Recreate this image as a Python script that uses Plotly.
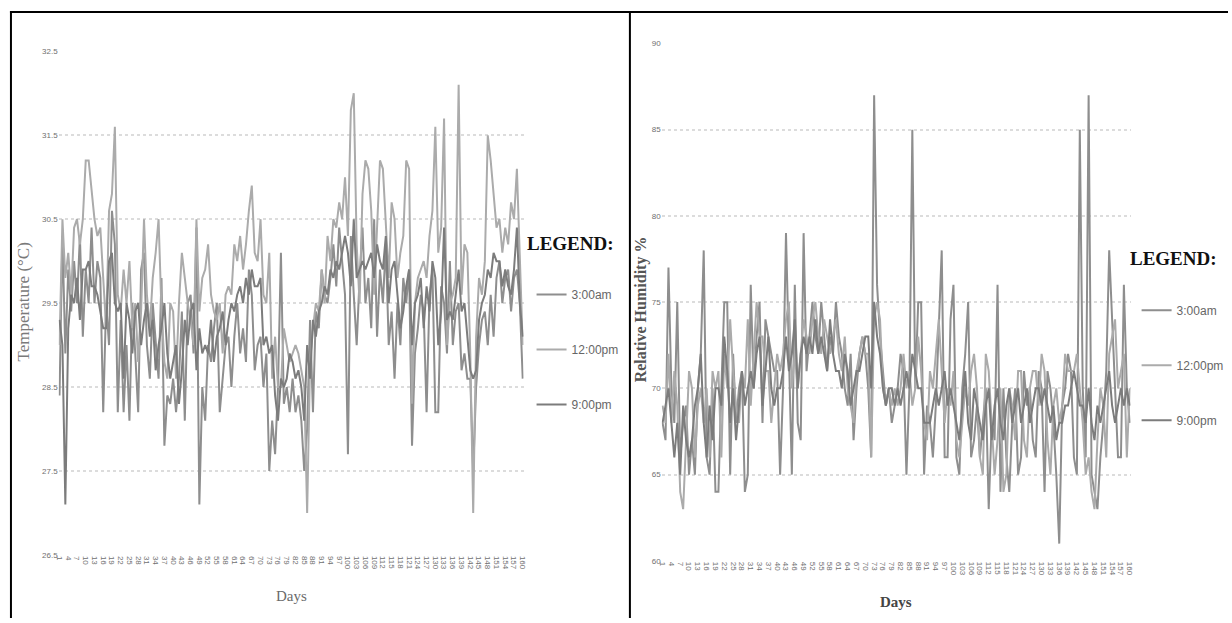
import plotly.graph_objects as go

W, H = 1232, 623
days = list(range(1, 161))
tick_days = list(range(1, 161, 3))

temp_3am = [
    28.4, 30.3, 28.9, 29.9, 29.4, 30.0, 29.5, 30.3, 29.1, 29.9,
    29.5, 30.4, 29.5, 30.0, 29.8, 28.2, 29.5, 29.0, 30.6, 30.2,
    28.2, 29.3, 28.2, 29.0, 28.1, 29.5, 28.9, 28.2, 29.9, 30.1,
    29.0, 28.6, 29.5, 29.0, 28.6, 29.8, 27.8, 28.4, 28.3, 28.6,
    28.2, 28.6, 29.4, 28.1, 29.5, 29.6, 28.9, 30.4, 27.1, 28.5,
    28.1, 29.0, 28.8, 29.2, 29.5, 28.2, 28.6, 29.0, 29.1, 28.5,
    29.1, 29.5, 28.9, 29.2, 28.8, 29.9, 29.6, 28.7, 29.0, 29.1,
    28.5, 28.9, 27.5, 28.1, 27.7, 28.5, 30.1, 28.3, 28.5, 28.2,
    28.6, 28.2, 28.4, 28.1, 27.5, 28.0, 29.3, 28.2, 29.4, 29.2,
    29.9, 29.6, 29.5, 29.8, 30.2, 29.7, 30.4, 30.0, 29.6, 27.7,
    30.3, 29.6, 29.0, 29.8, 30.4, 29.5, 29.8, 29.2, 30.5, 29.1,
    29.9, 29.5, 30.2, 29.0, 29.4, 28.6, 29.5, 29.0, 29.8, 29.5,
    29.9, 27.8, 28.9, 29.2, 29.6, 29.4, 28.2, 29.6, 29.9, 28.2,
    28.2, 29.7, 29.5, 28.9, 30.0, 29.0, 29.4, 29.5, 28.7, 28.9,
    28.6, 28.6, 27.5, 28.5, 29.0, 29.3, 29.4, 29.0, 29.6, 29.1,
    29.8, 30.0, 29.5, 29.8, 29.9, 29.4, 29.8, 29.9, 29.5, 28.6,
]
temp_12pm = [
    29.0, 30.5, 29.8, 30.1, 29.6, 30.4, 30.5, 30.2, 30.5, 31.2,
    31.2, 30.8, 30.5, 30.3, 30.4, 29.8, 29.2, 30.6, 30.8, 31.6,
    29.6, 29.4, 29.9, 29.5, 30.0, 29.2, 29.5, 28.8, 29.4, 30.5,
    29.6, 29.2, 29.8, 30.1, 30.5, 29.4, 28.8, 28.6, 29.5, 29.4,
    28.6, 29.5, 30.1, 29.8, 29.5, 29.3, 29.0, 30.5, 29.4, 29.8,
    29.9, 30.2, 29.6, 29.4, 29.3, 29.5, 28.9, 29.6, 29.7, 29.6,
    30.2, 30.0, 30.3, 29.9, 30.2, 30.6, 30.9, 30.1, 30.0, 30.5,
    29.6, 29.5, 30.1, 28.6, 29.1, 28.5, 28.5, 29.2, 29.0, 28.8,
    28.9, 29.0, 28.9, 28.7, 28.5, 27.0, 28.8, 29.2, 29.5, 29.4,
    29.9, 29.5, 30.3, 30.0, 30.5, 30.4, 30.7, 30.5, 31.0, 30.3,
    31.8, 32.0, 30.2, 29.5, 30.8, 31.2, 31.1, 30.6, 29.6, 30.4,
    31.2, 31.1, 30.5, 29.8, 30.7, 30.5, 29.8, 30.1, 30.3, 31.2,
    31.1, 28.3, 29.5, 29.8, 29.9, 30.0, 29.8, 30.3, 30.6, 31.6,
    30.1, 30.4, 31.7, 29.0, 29.5, 29.6, 29.8, 32.1, 29.6, 30.2,
    30.1, 28.9, 27.0, 29.1, 29.8, 29.6, 30.0, 31.5, 31.2, 30.8,
    30.4, 30.5, 30.1, 30.4, 30.2, 30.7, 30.5, 31.1, 30.0, 29.0,
]
temp_9pm = [
    29.3, 29.0, 27.1, 29.2, 29.6, 29.5, 29.8, 29.3, 29.9, 29.9,
    30.0, 29.7, 29.7, 29.6, 29.4, 29.2, 29.2, 30.0, 30.1, 29.5,
    29.4, 29.5, 28.6, 29.5, 29.3, 28.9, 29.4, 29.5, 29.0, 29.3,
    29.5, 29.1, 29.3, 28.7, 29.0, 29.2, 29.5, 28.9, 28.6, 28.8,
    29.0, 28.3, 28.7, 29.3, 29.0, 29.4, 29.5, 28.7, 29.2, 28.9,
    29.0, 28.9, 29.3, 28.8, 29.1, 29.2, 29.4, 29.0, 29.3, 29.5,
    29.4, 29.6, 29.7, 29.5, 29.8, 29.6, 29.9, 29.7, 29.7, 29.8,
    29.0, 29.1, 28.9, 29.0, 28.4, 28.1, 28.6, 28.5, 28.6, 28.9,
    28.8, 28.6, 28.7, 28.5, 28.1, 29.0, 28.6, 29.3, 29.1, 29.4,
    29.5, 29.7, 29.6, 29.9, 29.8, 30.0, 29.9, 30.1, 30.3, 30.1,
    29.7, 30.5, 29.8, 29.9, 30.0, 29.9, 30.0, 30.1, 29.8, 30.2,
    30.0, 29.9, 30.3, 29.5, 29.9, 30.0, 29.6, 29.2, 29.4, 29.7,
    29.9, 29.0, 29.5, 29.6, 29.8, 29.2, 29.7, 29.4, 30.0, 29.8,
    29.0, 29.4, 30.4, 29.3, 29.4, 29.3, 29.6, 29.9, 29.4, 29.5,
    29.1, 28.7, 28.6, 28.7, 29.3, 29.5, 29.6, 29.9, 29.8, 30.1,
    30.0, 30.0, 29.7, 29.9, 29.7, 29.6, 29.9, 30.4, 29.5, 29.1,
]

rh_3am = [
    68, 67, 77, 70, 68, 75, 66, 68, 69, 65,
    67, 65, 70, 72, 78, 66, 65, 70, 64, 64,
    70, 75, 75, 65, 72, 68, 70, 71, 64, 65,
    76, 70, 73, 75, 68, 74, 73, 72, 71, 71,
    65, 70, 79, 72, 65, 76, 68, 67, 79, 71,
    73, 75, 73, 72, 75, 73, 71, 73, 72, 75,
    73, 72, 70, 69, 72, 67, 70, 72, 73, 72,
    70, 66, 87, 76, 73, 71, 69, 70, 68, 69,
    70, 72, 71, 65, 70, 85, 70, 75, 75, 65,
    69, 68, 66, 69, 74, 78, 66, 66, 74, 76,
    66, 65, 70, 72, 75, 66, 67, 69, 66, 68,
    70, 63, 68, 67, 76, 64, 70, 66, 64, 68,
    70, 65, 66, 71, 69, 70, 67, 66, 71, 70,
    64, 71, 70, 68, 65, 61, 69, 70, 72, 71,
    66, 65, 85, 70, 66, 87, 65, 64, 63, 66,
    68, 71, 78, 74, 70, 66, 66, 76, 70, 68,
]
rh_12pm = [
    69, 68, 72, 68, 71, 69, 64, 63, 67, 71,
    70, 66, 69, 70, 68, 70, 66, 71, 70, 71,
    66, 72, 70, 74, 71, 69, 68, 71, 70, 74,
    69, 72, 75, 73, 73, 71, 71, 68, 70, 72,
    71, 72, 74, 75, 70, 72, 70, 72, 74, 73,
    72, 74, 75, 73, 72, 74, 73, 72, 73, 74,
    72, 71, 73, 70, 69, 68, 71, 72, 73, 72,
    72, 66, 74, 75, 74, 70, 69, 70, 69, 70,
    69, 70, 72, 70, 71, 69, 70, 73, 71, 68,
    67, 71, 70, 72, 74, 71, 68, 70, 69, 71,
    67, 66, 68, 70, 69, 71, 72, 70, 66, 65,
    72, 71, 68, 65, 67, 70, 64, 65, 70, 69,
    67, 71, 71, 67, 66, 70, 71, 71, 69, 72,
    71, 67, 65, 69, 70, 68, 69, 72, 71, 71,
    71, 72, 70, 68, 65, 66, 64, 63, 67, 70,
    69, 66, 72, 73, 74, 70, 71, 72, 66, 70,
]
rh_9pm = [
    68, 69, 70, 68, 66, 68, 65, 69, 67, 66,
    67, 69, 70, 72, 68, 66, 69, 67, 70, 70,
    69, 73, 71, 68, 70, 67, 69, 71, 69, 70,
    71, 70, 72, 73, 69, 71, 73, 70, 69, 70,
    70, 71, 73, 71, 72, 74, 70, 72, 73, 72,
    73, 72, 74, 72, 73, 72, 71, 74, 72, 71,
    71, 70, 72, 71, 69, 70, 71, 71, 72, 73,
    73, 70, 75, 73, 72, 70, 69, 70, 70, 69,
    70, 69, 70, 71, 70, 72, 71, 70, 70, 68,
    68, 68, 69, 70, 69, 70, 71, 69, 70, 69,
    68, 67, 69, 71, 68, 67, 70, 69, 68, 67,
    69, 70, 67, 69, 70, 68, 67, 69, 70, 68,
    69, 70, 68, 69, 70, 68, 69, 70, 70, 69,
    70, 69, 68, 69, 67, 68, 68, 69, 69, 70,
    71, 70, 69, 69, 68, 70, 68, 67, 69, 68,
    69, 70, 71, 69, 68, 69, 70, 69, 70, 69,
]

series_names = ["3:00am", "12:00pm", "9:00pm"]
series_colors = ["#8e8e8e", "#ababab", "#7c7c7c"]

def px(xp):
    return xp / W

def py(yp):
    return (H - yp) / H

fig = go.Figure()
for i, (name, vals) in enumerate(zip(series_names, [temp_3am, temp_12pm, temp_9pm])):
    fig.add_trace(go.Scatter(x=days, y=vals, mode="lines", name=name,
                             line=dict(color=series_colors[i], width=2),
                             xaxis="x", yaxis="y", legend="legend",
                             legendgroup="t" + str(i)))
for i, (name, vals) in enumerate(zip(series_names, [rh_3am, rh_12pm, rh_9pm])):
    fig.add_trace(go.Scatter(x=days, y=vals, mode="lines", name=name,
                             line=dict(color=series_colors[i], width=2),
                             xaxis="x2", yaxis="y2", legend="legend2",
                             legendgroup="h" + str(i)))

tickfont = dict(family="Liberation Sans Narrow, Liberation Sans, sans-serif", size=8, color="#6f6f6f")
xcommon = dict(tickmode="array", tickvals=tick_days, ticktext=[str(d) for d in tick_days],
               tickangle=90, tickfont=tickfont, showgrid=False, zeroline=False,
               showline=False, ticks="", range=[0.7, 160.3])
ycommon = dict(tickfont=tickfont, showgrid=True, gridcolor="#dcdcdc", griddash="dot",
               gridwidth=1.5, zeroline=False, showline=False, ticks="")

legfont = dict(family="Liberation Sans Narrow, Liberation Sans, sans-serif", size=12, color="#666666")

fig.update_layout(
    width=W, height=H,
    margin=dict(l=0, r=0, t=0, b=0),
    paper_bgcolor="white", plot_bgcolor="white",
    xaxis=dict(domain=[px(55), px(523)], anchor="y", **xcommon),
    yaxis=dict(domain=[py(559), py(48)], anchor="x", range=[26.5, 32.5],
               tickvals=[26.5, 27.5, 28.5, 29.5, 30.5, 31.5, 32.5],
               ticktext=["26.5", "27.5", "28.5", "29.5", "30.5", "31.5", "32.5"], **ycommon),
    xaxis2=dict(domain=[px(662), px(1134)], anchor="y2", **xcommon),
    yaxis2=dict(domain=[py(565), py(40)], anchor="x2", range=[60, 90],
                tickvals=[60, 65, 70, 75, 80, 85, 90], **ycommon),
    legend=dict(x=px(531), y=py(280), xanchor="left", yanchor="top",
                font=legfont, tracegroupgap=36, traceorder="grouped",
                bgcolor="rgba(0,0,0,0)"),
    legend2=dict(x=px(1140), y=py(296), xanchor="left", yanchor="top",
                 font=legfont, tracegroupgap=36, traceorder="grouped",
                 bgcolor="rgba(0,0,0,0)"),
    showlegend=True,
)

serif = "Liberation Serif, Times New Roman, serif"
annots = [
    dict(text="Temperature (°C)", x=px(20), y=py(302), textangle=-90,
         font=dict(family=serif, size=17, color="#7a7a7a")),
    dict(text="Days", x=px(289), y=py(601),
         font=dict(family=serif, size=15, color="#6a6a6a")),
    dict(text="<b>LEGEND:</b>", x=px(570), y=py(243),
         font=dict(family=serif, size=19, color="#111111")),
    dict(text="<b>Relative Humidity %</b>", x=px(641), y=py(310), textangle=-90,
         font=dict(family=serif, size=16, color="#555555")),
    dict(text="<b>Days</b>", x=px(898), y=py(607),
         font=dict(family=serif, size=15, color="#444444")),
    dict(text="<b>LEGEND:</b>", x=px(1177), y=py(258),
         font=dict(family=serif, size=19, color="#111111")),
]
for a in annots:
    fig.add_annotation(xref="paper", yref="paper", showarrow=False,
                       xanchor="center", yanchor="middle", **a)

shapes = [
    dict(type="line", x0=px(7), x1=px(7), y0=py(7), y1=py(623)),
    dict(type="line", x0=px(6), x1=px(1232), y0=py(8), y1=py(8)),
    dict(type="line", x0=px(630), x1=px(630), y0=py(7), y1=py(623)),
]
for s in shapes:
    fig.add_shape(xref="paper", yref="paper", line=dict(color="black", width=2), **s)

fig.write_html(
    "out.html",
    config={"displayModeBar": False},
    post_script="document.body.style.margin='0';document.body.style.padding='0';"
                "document.body.style.overflow='hidden';"
                "document.documentElement.style.overflow='hidden';",
)
